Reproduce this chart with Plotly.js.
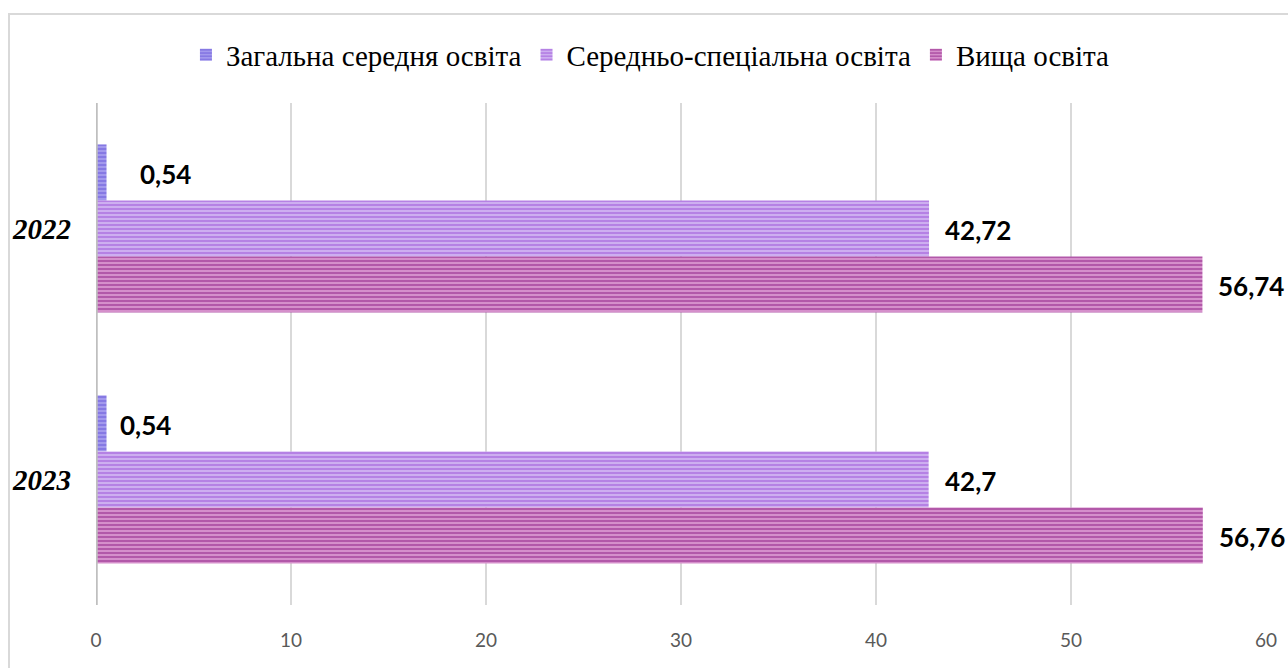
<!DOCTYPE html>
<html>
<head>
<meta charset="utf-8">
<script src="https://cdn.plot.ly/plotly-3.0.1.min.js"></script>
<style>
  html, body { margin: 0; padding: 0; background: #fff; }
  #wrap { position: relative; width: 1288px; height: 668px; overflow: hidden; }
  #chart { width: 1288px; height: 668px; }
  #frame { position: absolute; left: 8px; top: 13px; width: 1300px; height: 700px;
           border: 2px solid #d9d9d9; pointer-events: none; box-sizing: border-box; }
</style>
</head>
<body>
<div id="wrap">
  <div id="chart"></div>
  <div id="frame"></div>
</div>
<script>
// Share of employees by education level, %
const years = ['2022', '2023'];
const seriesNames = ['Загальна середня освіта', 'Середньо-спеціальна освіта', 'Вища освіта'];
const generalSecondary = [0.54, 0.54];
const specialSecondary = [42.72, 42.7];
const higher = [56.74, 56.76];
const labelsGeneral = ['0,54', '0,54'];
const labelsSpecial = ['42,72', '42,7'];
const labelsHigher = ['56,74', '56,76'];
const xTicks = [0, 10, 20, 30, 40, 50, 60];

const values = [generalSecondary, specialSecondary, higher];
const labels = [labelsGeneral, labelsSpecial, labelsHigher];
const fg = ['#6656d8', '#9a4fd8', '#8c1c84'];
const bg = ['#a69cee', '#d0b3f1', '#d995cf'];

const traces = values.map((v, i) => ({
  type: 'bar',
  orientation: 'h',
  name: seriesNames[i],
  y: years,
  x: v,
  marker: {
    color: bg[i],
    line: { width: 0 },
    pattern: { shape: '-', fgcolor: fg[i], bgcolor: bg[i], size: 4, solidity: 0.55, fillmode: 'overlay' }
  },
  hoverinfo: 'x+name'
}));

// value labels placed to the right of each bar (y given as category index)
const barPx = 56;
const annotations = [];
values.forEach((v, i) => {
  v.forEach((val, j) => {
    annotations.push({
      x: val, y: j, xref: 'x', yref: 'y',
      text: '<b>' + labels[i][j] + '</b>',
      showarrow: false, xanchor: 'left', yanchor: 'middle',
      xshift: (i === 0 && j === 0) ? 31 : (i === 0 ? 11 : 14),
      yshift: (1 - i) * barPx - 1,
      font: { family: 'Lato, "Open Sans", sans-serif', size: 26, color: '#000' }
    });
  });
});

const layout = {
  width: 1288, height: 668,
  margin: { l: 96, r: 22, t: 103, b: 63 },
  paper_bgcolor: '#fff', plot_bgcolor: '#fff',
  barmode: 'group',
  bargap: 0.33,
  bargroupgap: 0,
  showlegend: true,
  legend: {
    orientation: 'h', xref: 'container', yref: 'container',
    x: 0.505, xanchor: 'center', y: 0.918, yanchor: 'middle',
    font: { family: '"Liberation Serif", "Times New Roman", serif', size: 29, color: '#000' },
    traceorder: 'normal', itemwidth: 30
  },
  xaxis: {
    range: [0, 60], tickvals: xTicks, ticktext: xTicks.map(String),
    showgrid: true, gridcolor: '#d9d9d9', gridwidth: 2,
    zeroline: false, showline: false, ticks: '',
    tickfont: { family: 'Lato, "Open Sans", sans-serif', size: 19, color: '#595959' },
    ticklabelstandoff: 22, fixedrange: true
  },
  yaxis: {
    type: 'category', categoryorder: 'array', categoryarray: years,
    range: [1.5, -0.5], autorange: false, showgrid: false, zeroline: false,
    showline: false, ticks: '',
    tickfont: { family: '"Liberation Serif", "Times New Roman", serif', size: 29, color: '#000', weight: 'bold', style: 'italic' },
    ticklabelstandoff: 24, fixedrange: true
  },
  shapes: [{
    type: 'line', xref: 'x', yref: 'paper', x0: 0, x1: 0, y0: 0, y1: 1,
    line: { color: '#bfbfbf', width: 3.5 }, layer: 'above'
  }],
  annotations: annotations
};

Plotly.newPlot('chart', traces, layout, { displayModeBar: false, staticPlot: true });
</script>
</body>
</html>
